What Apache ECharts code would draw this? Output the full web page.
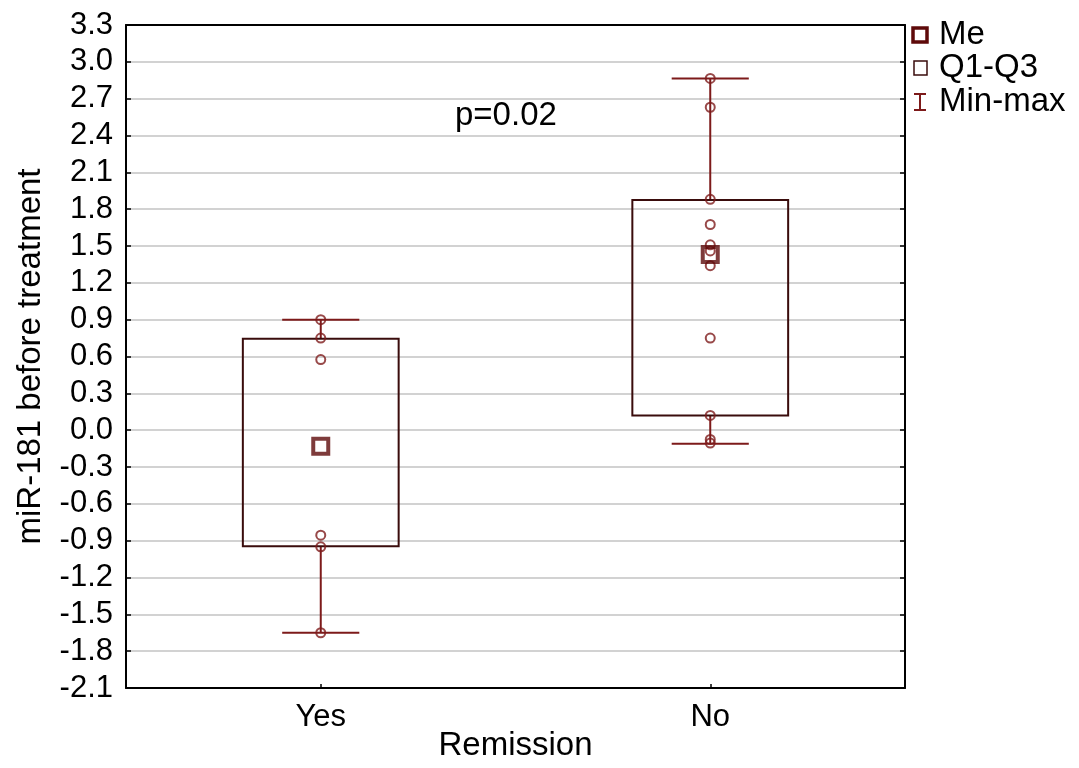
<!DOCTYPE html>
<html lang="en">
  <head>
    <meta charset="UTF-8" />
    <title>miR-181 boxplot</title>
    <script src="https://cdn.jsdelivr.net/npm/echarts@6/dist/echarts.min.js"></script>
    <style>
      body { margin: 0; background: #fff; }
    </style>
  </head>
  <body>
    <div id="main" style="width: 1079px; height: 768px"></div>
    <script type="text/javascript">
      // values
      const categories = ['Yes', 'No'];
      const mins = [-1.65, -0.11];
      const q1s = [-0.945, 0.12];
      const medians = [-0.13, 1.43];
      const q3s = [0.745, 1.875];
      const maxs = [0.9, 2.865];
      const pointsYes = [0.9, 0.75, 0.575, -0.855, -0.95, -1.65];
      const pointsNo = [2.865, 2.63, 1.88, 1.675, 1.51, 1.46, 1.34, 0.75, 0.12, -0.075, -0.105];
      const yTicks = { min: -2.1, max: 3.3, step: 0.3 };

      const FONT = 'Arial, "Liberation Sans", sans-serif';
      const boxColor = '#3a0c0c';
      const whiskerColor = '#7d1a1a';
      const pointColor = '#7e1c1c';

      let myChart = echarts.init(document.getElementById('main'));

      let boxData = categories.map((c, i) => [i, mins[i], q1s[i], q3s[i], maxs[i]]);
      let pointData = [];
      pointsYes.forEach(v => pointData.push([0, v]));
      pointsNo.forEach(v => pointData.push([1, v]));
      let medianData = medians.map((v, i) => [i, v]);

      function renderBox(params, api) {
        let idx = api.value(0);
        let band = api.size([1, 0])[0];
        let x = api.coord([idx, 0])[0];
        let yMin = api.coord([idx, api.value(1)])[1];
        let yQ1 = api.coord([idx, api.value(2)])[1];
        let yQ3 = api.coord([idx, api.value(3)])[1];
        let yMax = api.coord([idx, api.value(4)])[1];
        let hw = band * 0.2;
        let cw = band * 0.099;
        let wStyle = { stroke: whiskerColor, lineWidth: 2 };
        return {
          type: 'group',
          children: [
            { type: 'line', shape: { x1: x, y1: yQ3, x2: x, y2: yMax }, style: wStyle },
            { type: 'line', shape: { x1: x, y1: yQ1, x2: x, y2: yMin }, style: wStyle },
            { type: 'line', shape: { x1: x - cw, y1: yMax, x2: x + cw, y2: yMax }, style: wStyle },
            { type: 'line', shape: { x1: x - cw, y1: yMin, x2: x + cw, y2: yMin }, style: wStyle },
            {
              type: 'rect',
              shape: { x: x - hw, y: yQ3, width: hw * 2, height: yQ1 - yQ3 },
              style: { fill: 'none', stroke: boxColor, lineWidth: 2 }
            }
          ]
        };
      }

      let options = {
        animation: false,
        backgroundColor: '#fff',
        textStyle: { fontFamily: FONT },
        grid: {
          left: 126, right: 174, top: 25, bottom: 80,
          outerBoundsMode: 'none',
          containLabel: false
        },
        xAxis: [
          {
            type: 'category',
            data: categories,
            name: 'Remission',
            nameLocation: 'middle',
            nameGap: 41,
            nameMoveOverlap: false,
            nameTextStyle: { fontSize: 33, color: '#000', fontFamily: FONT },
            axisLine: { onZero: false, lineStyle: { color: '#000', width: 2 } },
            axisTick: { show: true, inside: true, alignWithLabel: true, length: 4, lineStyle: { color: '#000', width: 1.5 } },
            axisLabel: { fontSize: 31, color: '#000', margin: 14, fontFamily: FONT },
            splitLine: { show: false }
          },
          {
            type: 'category',
            data: categories,
            position: 'top',
            axisLine: { onZero: false, lineStyle: { color: '#000', width: 2 } },
            axisTick: { show: false },
            axisLabel: { show: false },
            splitLine: { show: false }
          }
        ],
        yAxis: [
          {
            type: 'value',
            min: yTicks.min,
            max: yTicks.max,
            interval: yTicks.step,
            name: 'miR-181 before treatment',
            nameLocation: 'middle',
            nameGap: 79,
            nameTextStyle: { fontSize: 33, color: '#000', fontFamily: FONT },
            axisLine: { show: true, onZero: false, lineStyle: { color: '#000', width: 2 } },
            axisTick: { show: true, inside: true, length: 5, lineStyle: { color: '#000', width: 1.5 } },
            axisLabel: {
              fontSize: 31, color: '#000', margin: 13, fontFamily: FONT,
              formatter: v => v.toFixed(1)
            },
            splitLine: { show: true, lineStyle: { color: '#d2d2d2', width: 2 } }
          },
          {
            type: 'value',
            position: 'right',
            min: yTicks.min,
            max: yTicks.max,
            interval: yTicks.step,
            axisLine: { show: true, onZero: false, lineStyle: { color: '#000', width: 2 } },
            axisTick: { show: true, inside: true, length: 5, lineStyle: { color: '#000', width: 1.5 } },
            axisLabel: { show: false },
            splitLine: { show: false }
          }
        ],
        series: [
          {
            name: 'Min-max',
            type: 'custom',
            renderItem: renderBox,
            data: boxData,
            z: 2
          },
          {
            name: 'points',
            type: 'scatter',
            data: pointData,
            symbol: 'circle',
            symbolSize: 9,
            itemStyle: { color: 'transparent', borderColor: pointColor, borderWidth: 2 },
            z: 3
          },
          {
            name: 'Me',
            type: 'scatter',
            data: medianData,
            symbol: 'rect',
            symbolSize: 15,
            itemStyle: { color: 'transparent', borderColor: '#5e0a0a', borderWidth: 4 },
            z: 4
          }
        ],
        graphic: [
          {
            type: 'text', left: 455, top: 99,
            style: { text: 'p=0.02', font: '33px ' + FONT, fill: '#000' }
          },
          // legend
          {
            type: 'rect', shape: { x: 913, y: 28, width: 14, height: 14 },
            style: { fill: 'none', stroke: '#5e0a0a', lineWidth: 3.5 }
          },
          {
            type: 'text', left: 939, top: 18,
            style: { text: 'Me', font: '33px ' + FONT, fill: '#000' }
          },
          {
            type: 'rect', shape: { x: 914, y: 61, width: 13, height: 14 },
            style: { fill: 'none', stroke: boxColor, lineWidth: 1.5 }
          },
          {
            type: 'text', left: 939, top: 51,
            style: { text: 'Q1-Q3', font: '33px ' + FONT, fill: '#000' }
          },
          {
            type: 'group',
            children: [
              { type: 'line', shape: { x1: 920, y1: 94, x2: 920, y2: 110 }, style: { stroke: whiskerColor, lineWidth: 2 } },
              { type: 'line', shape: { x1: 914, y1: 94, x2: 926, y2: 94 }, style: { stroke: whiskerColor, lineWidth: 2 } },
              { type: 'line', shape: { x1: 914, y1: 110, x2: 926, y2: 110 }, style: { stroke: whiskerColor, lineWidth: 2 } }
            ]
          },
          {
            type: 'text', left: 939, top: 85,
            style: { text: 'Min-max', font: '33px ' + FONT, fill: '#000' }
          }
        ]
      };

      myChart.setOption(options);
    </script>
  </body>
</html>
